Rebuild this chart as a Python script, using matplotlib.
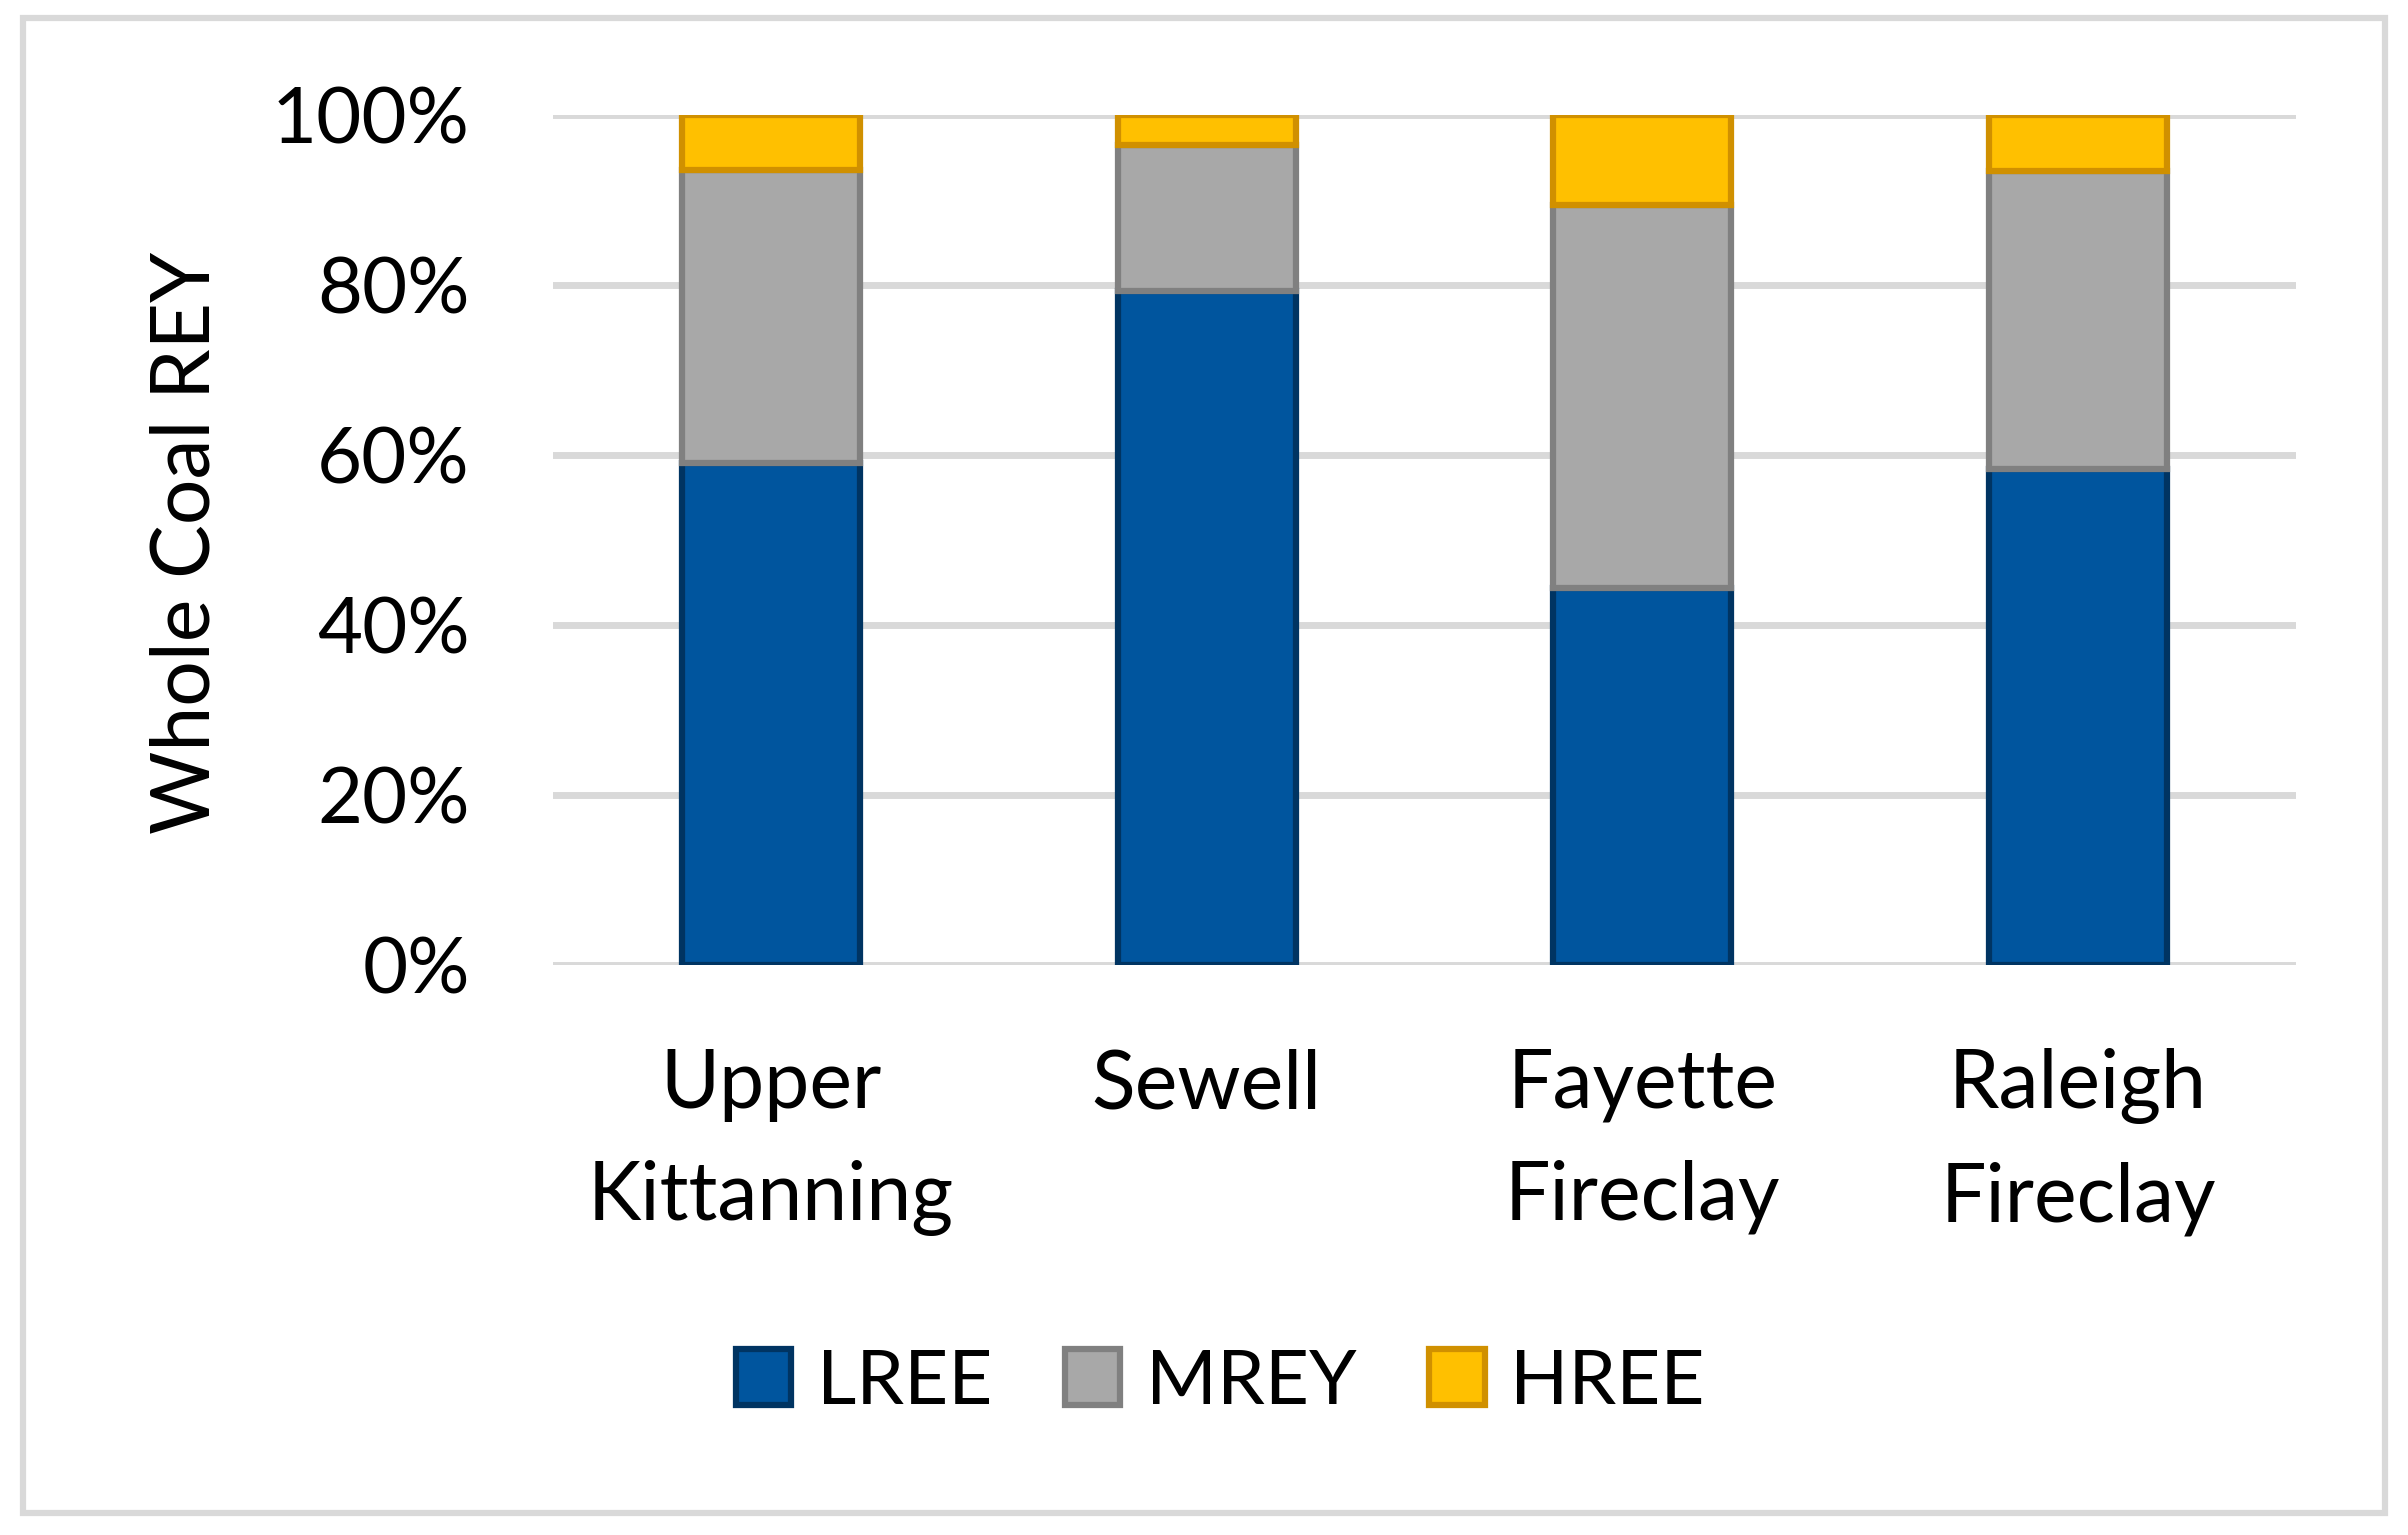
import numpy as np
import matplotlib.pyplot as plt
from matplotlib.patches import Rectangle, Patch

# data (fractions of whole coal REY)
seams = ["Upper\nKittanning", "Sewell", "Fayette\nFireclay", "Raleigh\nFireclay"]
lree = [0.591, 0.793, 0.444, 0.584]
mrey = [0.344, 0.172, 0.450, 0.350]
hree = [0.065, 0.035, 0.106, 0.066]
yticks = [0, 0.2, 0.4, 0.6, 0.8, 1.0]
ytick_labels = ["0%", "20%", "40%", "60%", "80%", "100%"]

series = [
    ("LREE", lree, "#00559E", "#003462"),
    ("MREY", mrey, "#A8A8A8", "#808080"),
    ("HREE", hree, "#FFC000", "#D09000"),
]

plt.rcParams['font.family'] = ['Lato', 'DejaVu Sans']
lw = 4.5

fig = plt.figure(figsize=(24.08, 15.35), dpi=100)
fig.patches.append(Rectangle((23/2408, 1-1513/1535), (2385-23)/2408, (1513-18)/1535,
                             transform=fig.transFigure, fill=False,
                             edgecolor="#D9D9D9", linewidth=4.5))

ax = fig.add_axes([553/2408, 1-965/1535, 1743/2408, 850/1535])
x = np.arange(len(seams))
bottom = np.zeros(len(seams))
for name, vals, fc, ec in series:
    ax.bar(x, vals, width=0.408, bottom=bottom, color=fc, edgecolor=ec,
           linewidth=lw, zorder=3, label=name)
    bottom += np.array(vals)

ax.set_xlim(-0.5, 3.5)
ax.set_ylim(0, 1)
ax.set_yticks(yticks)
ax.set_yticklabels(ytick_labels, fontsize=56)
ax.set_xticks(x)
ax.set_xticklabels(seams, fontsize=58, linespacing=1.62)
ax.tick_params(axis='y', length=0, pad=60)
ax.tick_params(axis='x', length=0, pad=60)
ax.grid(axis='y', color="#D9D9D9", linewidth=5, zorder=0)
ax.set_axisbelow(True)
for s in ax.spines.values():
    s.set_visible(False)

fig.text(187/2408, 1-543/1535, "Whole Coal REY", rotation=90, ha='center', va='center',
         fontsize=58)

handles = [Patch(facecolor=fc, edgecolor=ec, linewidth=lw, label=name)
           for name, vals, fc, ec in series]
fig.legend(handles=handles, loc='center', bbox_to_anchor=(1220/2408, 1-1382/1535),
           ncol=3, frameon=False, fontsize=55, handlelength=0.73, handleheight=0.74,
           handletextpad=0.33, columnspacing=0.95)

fig.savefig("out.png", dpi=100)
